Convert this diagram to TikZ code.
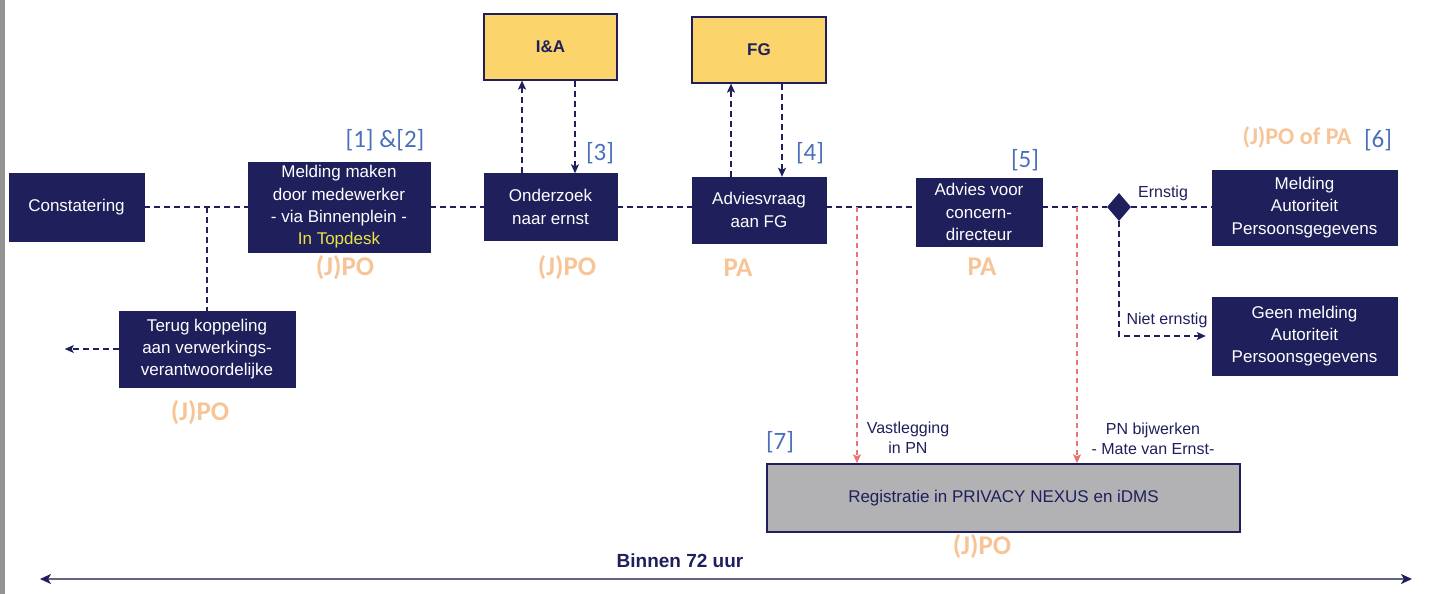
\documentclass[tikz,border=0pt]{standalone}
\usepackage{fontspec}
\setmainfont{Liberation Sans}
\newfontfamily\labfont{Carlito}
\usetikzlibrary{arrows.meta,shapes.geometric}
\definecolor{navy}{RGB}{31,31,92}
\definecolor{tagblue}{RGB}{74,112,184}
\definecolor{roleorange}{RGB}{247,196,152}
\definecolor{boxyellow}{RGB}{251,213,107}
\definecolor{textyellow}{RGB}{232,228,70}
\definecolor{pnred}{RGB}{232,118,118}
\definecolor{regfill}{RGB}{178,178,180}
\definecolor{timeline}{RGB}{100,100,130}
\begin{document}
\begin{tikzpicture}[x=1pt,y=-1pt,
  stepbox/.style={fill=navy,draw=navy,text=white,align=center,inner sep=2pt,
    font=\fontsize{17}{22.3}\selectfont},
  extbox/.style={fill=boxyellow,draw=navy,line width=1.2pt,text=navy,
    font=\bfseries\fontsize{17}{20}\selectfont},
  flow/.style={draw=navy,line width=1.4pt,dash pattern=on 6pt off 4pt},
  flowarrow/.style={flow,-{Stealth[length=9pt,width=8pt,inset=2pt]}},
  pnarrow/.style={draw=pnred,line width=1.1pt,dash pattern=on 5pt off 4pt,
    -{Stealth[length=9pt,width=8pt,inset=2pt]}},
  tag/.style={text=tagblue,font=\labfont\fontsize{25}{27}\selectfont},
  role/.style={text=roleorange,font=\labfont\bfseries\fontsize{27}{29}\selectfont},
  note/.style={text=navy,align=center,font=\fontsize{16}{20}\selectfont},
]
\useasboundingbox (0,0) rectangle (1438,594);
\fill[gray!85] (0,0) rectangle (5,594);

% process steps
\node[stepbox,minimum width=135pt,minimum height=68pt] (con) at (76.5,207) {Constatering};
\node[stepbox,minimum width=182pt,minimum height=90pt] (mel) at (339,207)
  {Melding maken\\door medewerker\\- via Binnenplein -\\\textcolor{textyellow}{In Topdesk}};
\node[stepbox,minimum width=176pt,minimum height=76pt] (ter) at (207,349)
  {Terug koppeling\\aan verwerkings-\\verantwoordelijke};
\node[stepbox,minimum width=133pt,minimum height=67pt] (ond) at (550.5,207) {Onderzoek\\naar ernst};
\node[stepbox,minimum width=134pt,minimum height=66pt] (adv) at (759,210) {Adviesvraag\\aan FG};
\node[stepbox,minimum width=126pt,minimum height=68pt] (voor) at (979,212) {Advies voor\\concern-\\directeur};
\node[stepbox,minimum width=185pt,minimum height=75pt] (mad) at (1304.5,207.5) {Melding\\Autoriteit\\Persoonsgegevens};
\node[stepbox,minimum width=185pt,minimum height=78pt] (geen) at (1304.5,336) {Geen melding\\Autoriteit\\Persoonsgegevens};
\node[fill=regfill,draw=navy,line width=1.5pt,minimum width=473pt,minimum height=68pt,
  text=navy,font=\fontsize{17}{20}\selectfont] (reg) at (1003.5,498) {Registratie in PRIVACY NEXUS en iDMS};

% consulted parties
\node[extbox,minimum width=133pt,minimum height=66pt] (ia) at (550.5,47) {I\&A};
\node[extbox,minimum width=134pt,minimum height=66pt] (fg) at (759,50) {FG};

% decision
\node[diamond,fill=navy,inner sep=0pt,minimum width=24pt,minimum height=28pt] (dia) at (1119,207) {};

% main flow
\coordinate (j1) at (207,207);
\coordinate (r1) at (857,207);
\coordinate (r2) at (1077,207);
\draw[flow] (con.east) -- (mel.west);
\draw[flow] (j1) -- (ter.north);
\draw[flowarrow] (ter.west) -- ++(-54,0) coordinate (back);
\draw[flow] (mel.east) -- (ond.west);
\draw[flow] (ond.east) -- (ond.east -| adv.west);
\draw[flow] (ond.east -| adv.east) -- (ond.east -| voor.west);
\draw[flow] (dia.west -| voor.east) -- (dia.west);
\draw[flow] (dia.east) -- (dia.east -| mad.west);
\draw[flowarrow,shorten >=6pt] (dia.south) -- (dia.south |- geen.west) -- (geen.west);

% requests and answers
\draw[flowarrow] ([xshift=-28.5pt]ond.north) -- ([xshift=-28.5pt]ia.south);
\draw[flowarrow] ([xshift=24.5pt]ia.south) -- ([xshift=24.5pt]ond.north);
\draw[flowarrow] ([xshift=-28pt]adv.north) -- ([xshift=-28pt]fg.south);
\draw[flowarrow] ([xshift=23pt]fg.south) -- ([xshift=23pt]adv.north);

% registration
\draw[pnarrow] (r1) -- (r1 |- reg.north);
\draw[pnarrow] (r2) -- (r2 |- reg.north);

% labels
\node[note] (lern) at (1163,193) {Ernstig};
\node[note] (lniet) at (1167,320) {Niet ernstig};
\node[note] (lvast) at (908,438) {Vastlegging\\in PN};
\node[note] (lbij) at (1153,439) {PN bijwerken\\- Mate van Ernst-};

\node[tag] (t12) at (385,140) {[1] \&[2]};
\node[tag] (t3) at (600,153) {[3]};
\node[tag] (t4) at (810,153) {[4]};
\node[tag] (t5) at (1025,160) {[5]};
\node[tag] (t6) at (1378,140) {[6]};
\node[tag] (t7) at (780,442) {[7]};

\node[role] (rmel) at (345,268) {(J)PO};
\node[role] (rter) at (200,413) {(J)PO};
\node[role] (rond) at (567,268) {(J)PO};
\node[role] (radv) at (738,268) {PA};
\node[role] (rvoor) at (982,267) {PA};
\node[role,font=\labfont\bfseries\fontsize{24}{26}\selectfont] (rmad) at (1297,137) {(J)PO of PA};
\node[role] (rreg) at (982,547) {(J)PO};

% time span
\coordinate (tl) at (40,579);
\coordinate (tr) at (1412,579);
\draw[timeline,line width=2pt,
  {Stealth[length=11pt,width=10pt,inset=3pt,color=navy]}-{Stealth[length=11pt,width=10pt,inset=3pt,color=navy]}]
  (tl) -- (tr);
\node[text=navy,font=\bfseries\fontsize{19}{21}\selectfont] (span) at (680,561) {Binnen 72 uur};
\end{tikzpicture}
\end{document}
